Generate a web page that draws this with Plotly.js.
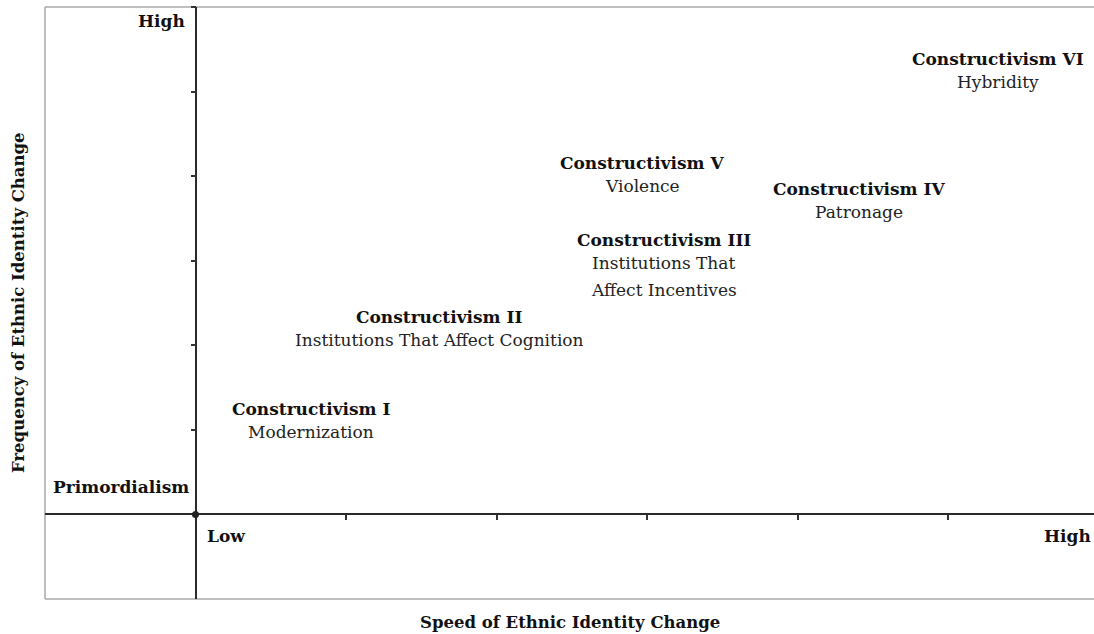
<!DOCTYPE html>
<html>
<head>
<meta charset="utf-8">
<script src="https://cdn.plot.ly/plotly-3.0.1.min.js"></script>
<style>html,body{margin:0;padding:0;background:#fff;}#chart{width:1094px;height:634px;}</style>
</head>
<body>
<div id="chart"></div>
<script>
// Theories placed by speed (x) and frequency (y) of ethnic identity change
var theoryNames = ["Constructivism I", "Constructivism II", "Constructivism III", "Constructivism IV", "Constructivism V", "Constructivism VI"];
var theoryMechanisms = [["Modernization"], ["Institutions That Affect Cognition"], ["Institutions That", "Affect Incentives"], ["Patronage"], ["Violence"], ["Hybridity"]];
var speedValues = [0.77, 1.62, 3.11, 4.41, 2.97, 5.33];
var frequencyValues = [1.25, 2.34, 3.24, 3.85, 4.16, 5.38];
var speedTicks = [1, 2, 3, 4, 5];
var frequencyTicks = [1, 2, 3, 4, 5, 6];
var origin = {speed: [0], frequency: [0], label: "Primordialism"};
var axisEndLabels = {lowSpeed: "Low", highSpeed: "High", highFrequency: "High"};
var xTitle = "Speed of Ethnic Identity Change";
var yTitle = "Frequency of Ethnic Identity Change";

var FONT = "DejaVu Serif, Liberation Serif, serif";
var LBL = 17;
var annotations = [];
for (var i = 0; i < theoryNames.length; i++) {
  annotations.push({
    x: speedValues[i], y: frequencyValues[i], xref: "x", yref: "y",
    text: "<b>" + theoryNames[i] + "</b>", showarrow: false,
    xanchor: "center", yanchor: "middle",
    font: {family: FONT, size: LBL, color: "#111"}
  });
  for (var j = 0; j < theoryMechanisms[i].length; j++) {
    annotations.push({
      x: speedValues[i], y: frequencyValues[i], xref: "x", yref: "y",
      text: theoryMechanisms[i][j], showarrow: false,
      xanchor: "center", yanchor: "middle", yshift: -(23 + 27 * j),
      font: {family: FONT, size: LBL, color: "#222"}
    });
  }
}
annotations.push({x: 0, y: 6, xref: "x", yref: "y", text: "<b>" + axisEndLabels.highFrequency + "</b>",
  showarrow: false, xanchor: "right", yanchor: "middle", xshift: -9, yshift: -14,
  font: {family: FONT, size: LBL, color: "#111"}});
annotations.push({x: 0, y: 0, xref: "x", yref: "y", text: "<b>" + origin.label + "</b>",
  showarrow: false, xanchor: "right", yanchor: "middle", xshift: -5, yshift: 27,
  font: {family: FONT, size: LBL, color: "#111"}});
annotations.push({x: 0, y: 0, xref: "x", yref: "y", text: "<b>" + axisEndLabels.lowSpeed + "</b>",
  showarrow: false, xanchor: "left", yanchor: "middle", xshift: 9, yshift: -22,
  font: {family: FONT, size: LBL, color: "#111"}});
annotations.push({x: 1, y: 0, xref: "paper", yref: "y", text: "<b>" + axisEndLabels.highSpeed + "</b>",
  showarrow: false, xanchor: "right", yanchor: "middle", xshift: -1, yshift: -22,
  font: {family: FONT, size: LBL, color: "#111"}});
annotations.push({x: 0.5, y: 0, xref: "paper", yref: "paper", text: "<b>" + xTitle + "</b>",
  showarrow: false, xanchor: "center", yanchor: "middle", yshift: -23,
  font: {family: FONT, size: 16.5, color: "#111"}});
annotations.push({x: 0, y: 0.5, xref: "paper", yref: "paper", text: "<b>" + yTitle + "</b>",
  showarrow: false, xanchor: "center", yanchor: "middle", xshift: -27, textangle: -90,
  font: {family: FONT, size: 16.5, color: "#111"}});

var data = [{
  x: origin.speed, y: origin.frequency, type: "scatter", mode: "markers",
  marker: {size: 7, color: "#222"}, cliponaxis: false, hoverinfo: "skip", showlegend: false
}];

var layout = {
  width: 1094, height: 634,
  margin: {l: 45, r: 0, t: 7, b: 35, pad: 0},
  paper_bgcolor: "#fff", plot_bgcolor: "#fff",
  showlegend: false,
  xaxis: {
    range: [-1, 5.97], showgrid: false, zeroline: true, zerolinecolor: "#2a2a2a", zerolinewidth: 2,
    tickvals: speedTicks, ticks: "outside", ticklen: 5, tickwidth: 2, tickcolor: "#333",
    showticklabels: false, showline: false, anchor: "free", position: 1 / 7, fixedrange: true
  },
  yaxis: {
    range: [-1, 6], showgrid: false, zeroline: true, zerolinecolor: "#2a2a2a", zerolinewidth: 2,
    tickvals: frequencyTicks, ticks: "outside", ticklen: 5, tickwidth: 2, tickcolor: "#333",
    showticklabels: false, showline: false, anchor: "free", position: 1 / 6.97, side: "left", fixedrange: true
  },
  shapes: [
    {type: "line", xref: "paper", yref: "paper", x0: 0, x1: 1, y0: 1, y1: 1, line: {color: "#a8a8a8", width: 1.5}, layer: "below"},
    {type: "line", xref: "paper", yref: "paper", x0: 0, x1: 1, y0: 0, y1: 0, line: {color: "#a8a8a8", width: 1.5}, layer: "below"},
    {type: "line", xref: "paper", yref: "paper", x0: 0, x1: 0, y0: 0, y1: 1, line: {color: "#a8a8a8", width: 1.5}, layer: "below"}
  ],
  annotations: annotations
};

Plotly.newPlot("chart", data, layout, {displayModeBar: false, staticPlot: true});
</script>
</body>
</html>
